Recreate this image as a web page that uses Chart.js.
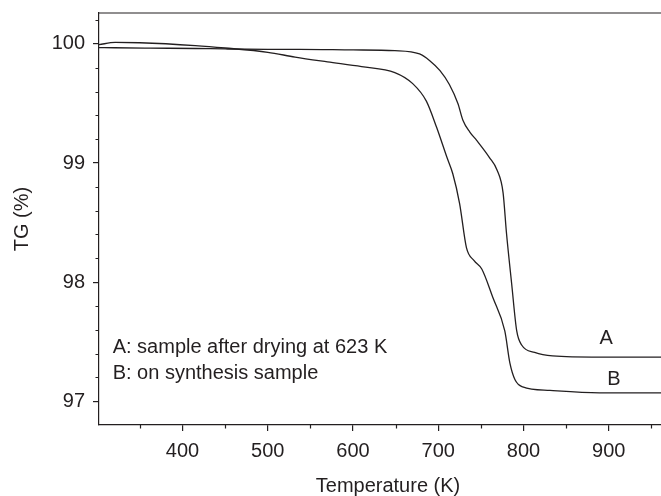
<!DOCTYPE html>
<html>
<head>
<meta charset="utf-8">
<script src="https://cdn.jsdelivr.net/npm/chart.js@4.4.1/dist/chart.umd.min.js"></script>
<style>
  html, body { margin: 0; padding: 0; background: #fff; overflow: hidden; }
  #wrap { width: 680px; height: 496px; }
</style>
</head>
<body>
<div id="wrap"><canvas id="tgChart" width="680" height="496"></canvas></div>
<script>
// Curve A: sample after drying at 623 K
const tempA = [302, 320, 362, 415, 450, 500, 537, 600, 649, 678, 690, 702, 713, 723, 729, 737, 745, 760, 769, 776, 780, 786, 792, 798, 813, 834, 889, 980];
const tgA = [99.97, 99.968, 99.965, 99.962, 99.958, 99.955, 99.955, 99.95, 99.944, 99.916, 99.86, 99.776, 99.66, 99.50, 99.357, 99.26, 99.19, 99.046, 98.94, 98.75, 98.41, 97.99, 97.59, 97.47, 97.41, 97.38, 97.37, 97.37];

// Curve B: on synthesis sample
const tempB = [302, 321, 350, 415, 450, 500, 532, 570, 610, 649, 670, 686, 698, 710, 717, 725, 733, 742, 751, 764, 778, 784, 790, 799, 831, 889, 980];
const tgB = [99.994, 100.013, 100.01, 99.986, 99.966, 99.93, 99.89, 99.85, 99.81, 99.76, 99.667, 99.52, 99.30, 99.05, 98.91, 98.66, 98.29, 98.18, 98.11, 97.87, 97.59, 97.32, 97.18, 97.12, 97.09, 97.07, 97.07];

// ticks
const xMajor = [400, 500, 600, 700, 800, 900];
const xMinor = [350, 450, 550, 650, 750, 850, 950];
const yMajor = [97, 98, 99, 100];
const yMinor = [97.2, 97.4, 97.6, 97.8, 98.2, 98.4, 98.6, 98.8, 99.2, 99.4, 99.6, 99.8, 100.2];

// texts drawn inside the plot (data coordinates)
const notes = [
  { text: "A: sample after drying at 623 K", x: 318, y: 97.45, align: "left" },
  { text: "B: on synthesis sample", x: 318, y: 97.235, align: "left" },
  { text: "A", x: 897, y: 97.53, align: "center" },
  { text: "B", x: 906, y: 97.18, align: "center" },
];

const ink = "#231f20";
const fontFam = "'Liberation Sans', Arial, sans-serif";

function toPoints(xs, ys) {
  return xs.map((t, i) => ({ x: t, y: ys[i] }));
}

// minor ticks, top border and in-plot texts
const marcasPlugin = {
  id: "marcas",
  afterDraw(chart) {
    const { ctx, chartArea, scales } = chart;
    const x = scales.x;
    const y = scales.y;
    ctx.save();
    ctx.strokeStyle = ink;
    ctx.lineWidth = 1.2;
    ctx.beginPath();
    ctx.moveTo(chartArea.left, chartArea.top);
    ctx.lineTo(chartArea.right, chartArea.top);
    xMinor.forEach((v) => {
      const px = Math.round(x.getPixelForValue(v)) + 0.5;
      ctx.moveTo(px, chartArea.bottom);
      ctx.lineTo(px, chartArea.bottom + 3.5);
    });
    yMinor.forEach((v) => {
      const py = Math.round(y.getPixelForValue(v)) + 0.5;
      ctx.moveTo(chartArea.left, py);
      ctx.lineTo(chartArea.left - 3.5, py);
    });
    ctx.stroke();

    ctx.fillStyle = ink;
    ctx.font = "20px " + fontFam;
    ctx.textBaseline = "middle";
    notes.forEach((n) => {
      ctx.textAlign = n.align;
      ctx.fillText(n.text, x.getPixelForValue(n.x), y.getPixelForValue(n.y));
    });
    ctx.restore();
  },
};

const lineStyle = {
  borderColor: ink,
  borderWidth: 1.3,
  pointRadius: 0,
  fill: false,
  cubicInterpolationMode: "monotone",
};

new Chart(document.getElementById("tgChart"), {
  type: "line",
  data: {
    datasets: [
      Object.assign({ label: "A", data: toPoints(tempA, tgA) }, lineStyle),
      Object.assign({ label: "B", data: toPoints(tempB, tgB) }, lineStyle),
    ],
  },
  options: {
    responsive: false,
    animation: false,
    layout: { padding: { left: 0, right: 3, top: 13, bottom: 0 } },
    plugins: {
      legend: { display: false },
      tooltip: { enabled: false },
    },
    scales: {
      x: {
        type: "linear",
        min: 302,
        max: 980,
        afterBuildTicks: (s) => { s.ticks = xMajor.map((v) => ({ value: v })); },
        afterFit: (s) => { s.height = 71; s.paddingLeft = 0; s.paddingRight = 0; },
        border: { display: true, color: ink, width: 1.2 },
        grid: { display: true, drawOnChartArea: false, drawTicks: true, tickLength: 6, color: ink, lineWidth: 1.2 },
        ticks: { color: ink, padding: 8, maxRotation: 0, autoSkip: false, font: { family: fontFam, size: 20 } },
        title: {
          display: true,
          text: "Temperature (K)",
          color: ink,
          padding: { top: 0, bottom: 0 },
          font: { family: fontFam, size: 20, lineHeight: 1 },
        },
      },
      y: {
        min: 96.8,
        max: 100.26,
        afterBuildTicks: (s) => { s.ticks = yMajor.map((v) => ({ value: v })); },
        afterFit: (s) => { s.width = 99; s.paddingTop = 0; s.paddingBottom = 0; },
        border: { display: true, color: ink, width: 1.2 },
        grid: { display: true, drawOnChartArea: false, drawTicks: true, tickLength: 6, color: ink, lineWidth: 1.2 },
        ticks: { color: ink, padding: 8, autoSkip: false, font: { family: fontFam, size: 20 } },
        title: {
          display: true,
          text: "TG (%)",
          color: ink,
          padding: { top: 12, bottom: 0 },
          font: { family: fontFam, size: 20, lineHeight: 1 },
        },
      },
    },
  },
  plugins: [marcasPlugin],
});
</script>
</body>
</html>
